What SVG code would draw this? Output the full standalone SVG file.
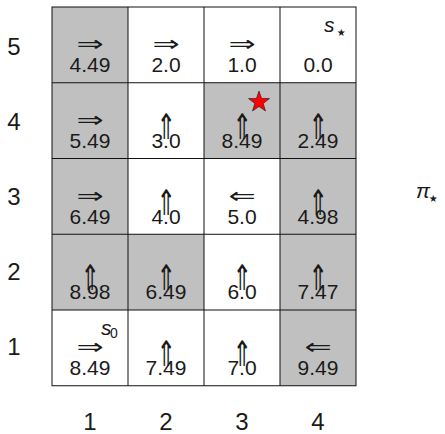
<svg xmlns="http://www.w3.org/2000/svg" width="445" height="434" viewBox="0 0 445 434">
<style>
.g{fill:#c0c0c0}
.grid{fill:none;stroke:#111;stroke-width:1}
.v{font-family:"Liberation Sans",Arial,sans-serif;font-size:21px;fill:#1a1a1a;text-anchor:middle}
.lab{font-family:"Liberation Sans",Arial,sans-serif;font-size:24px;fill:#1a1a1a;text-anchor:middle}
.a{font-family:"DejaVu Sans",sans-serif;font-size:25px;fill:#1a1a1a;text-anchor:middle}
.u{font-family:"DejaVu Sans",sans-serif;font-size:27px;fill:#1a1a1a;text-anchor:middle}
.it{font-family:"Liberation Sans",Arial,sans-serif;font-style:italic;font-size:21px;fill:#1a1a1a}
.sub{font-family:"Liberation Sans",Arial,sans-serif;font-size:14px;fill:#1a1a1a}
.st{font-family:"DejaVu Sans",sans-serif;font-size:20px;fill:#1a1a1a}
</style>
<g id="shading">
<rect class="g" x="52" y="7" width="76" height="75.75"/>
<rect class="g" x="52" y="82.75" width="76" height="75.75"/>
<rect class="g" x="204" y="82.75" width="152" height="75.75"/>
<rect class="g" x="52" y="158.5" width="76" height="75.75"/>
<rect class="g" x="280" y="158.5" width="76" height="75.75"/>
<rect class="g" x="52" y="234.25" width="152" height="75.75"/>
<rect class="g" x="280" y="234.25" width="76" height="75.75"/>
<rect class="g" x="280" y="310" width="76" height="75.75"/>
</g>
<g id="grid" class="grid">
<rect x="52" y="7" width="304" height="378.75"/>
<path d="M128 7V385.75M204 7V385.75M280 7V385.75M52 82.75H356M52 158.5H356M52 234.25H356M52 310H356"/>
</g>
<g id="row5">
<text class="a" transform="translate(90,51) scale(1.3,0.85)">⇒</text><text class="v" x="90" y="72">4.49</text>
<text class="a" transform="translate(166,51) scale(1.3,0.85)">⇒</text><text class="v" x="166" y="72">2.0</text>
<text class="a" transform="translate(242,51) scale(1.3,0.85)">⇒</text><text class="v" x="242" y="72">1.0</text>
<text class="v" x="318" y="72">0.0</text>
<text class="it" x="324" y="32">s</text><text class="st" x="335" y="39">⋆</text>
</g>
<g id="row4">
<text class="a" transform="translate(90,127) scale(1.3,0.85)">⇒</text><text class="v" x="90" y="148">5.49</text>
<text class="u" transform="translate(166,139) scale(0.85,1.3)">⇑</text><text class="v" x="166" y="148">3.0</text>
<text class="u" transform="translate(242,139) scale(0.85,1.3)">⇑</text><text class="v" x="242" y="148">8.49</text>
<text class="u" transform="translate(318,139) scale(0.85,1.3)">⇑</text><text class="v" x="318" y="148">2.49</text>
<polygon points="259,91 261.6,98.4 269.5,98.6 263.2,103.4 265.5,111 259,106.5 252.5,111 254.8,103.4 248.5,98.6 256.4,98.4" fill="#ff0000" stroke="#1a1a1a" stroke-width="0.6"/>
</g>
<g id="row3">
<text class="a" transform="translate(90,203) scale(1.3,0.85)">⇒</text><text class="v" x="90" y="224">6.49</text>
<text class="u" transform="translate(166,215) scale(0.85,1.3)">⇑</text><text class="v" x="166" y="224">4.0</text>
<text class="a" transform="translate(242,203) scale(1.3,0.85)">⇐</text><text class="v" x="242" y="224">5.0</text>
<text class="u" transform="translate(318,215) scale(0.85,1.3)">⇑</text><text class="v" x="318" y="224">4.98</text>
</g>
<g id="row2">
<text class="u" transform="translate(90,290) scale(0.85,1.3)">⇑</text><text class="v" x="90" y="299">8.98</text>
<text class="u" transform="translate(166,290) scale(0.85,1.3)">⇑</text><text class="v" x="166" y="299">6.49</text>
<text class="u" transform="translate(242,290) scale(0.85,1.3)">⇑</text><text class="v" x="242" y="299">6.0</text>
<text class="u" transform="translate(318,290) scale(0.85,1.3)">⇑</text><text class="v" x="318" y="299">7.47</text>
</g>
<g id="row1">
<text class="a" transform="translate(90,354) scale(1.3,0.85)">⇒</text><text class="v" x="90" y="375">8.49</text>
<text class="it" x="101" y="335">s</text><text class="sub" x="110" y="338">0</text>
<text class="u" transform="translate(166,366) scale(0.85,1.3)">⇑</text><text class="v" x="166" y="375">7.49</text>
<text class="u" transform="translate(242,366) scale(0.85,1.3)">⇑</text><text class="v" x="242" y="375">7.0</text>
<text class="a" transform="translate(318,354) scale(1.3,0.85)">⇐</text><text class="v" x="318" y="375">9.49</text>
</g>
<g id="labels">
<text class="lab" x="14" y="55">5</text>
<text class="lab" x="14" y="130">4</text>
<text class="lab" x="14" y="205">3</text>
<text class="lab" x="14" y="280">2</text>
<text class="lab" x="14" y="355">1</text>
<text class="lab" x="90" y="430">1</text>
<text class="lab" x="166" y="430">2</text>
<text class="lab" x="242" y="430">3</text>
<text class="lab" x="318" y="430">4</text>
<text class="it" x="416" y="198">π</text><text class="st" x="427" y="205">⋆</text>
</g>
</svg>
